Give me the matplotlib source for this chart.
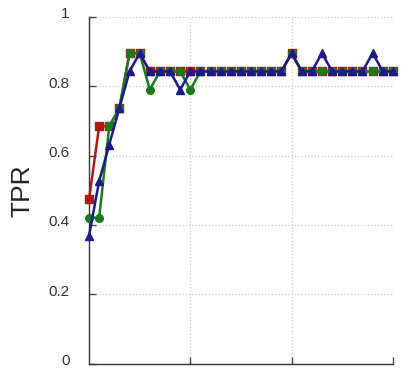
import matplotlib
matplotlib.use("Agg")
import matplotlib.pyplot as plt
import matplotlib.transforms as mtransforms

x = list(range(31))
k = 19.0
red_vals = [9, 13, 13, 14, 17, 17, 16, 16, 16, 16, 16, 16, 16, 16, 16, 16, 16, 16, 16, 16,
            17, 16, 16, 16, 16, 16, 16, 16, 16, 16, 16]
green_vals = [8, 8, 13, 14, 17, 17, 15, 16, 16, 16, 15, 16, 16, 16, 16, 16, 16, 16, 16, 16,
              17, 16, 16, 16, 16, 16, 16, 16, 16, 16, 16]
blue_vals = [7, 10, 12, 14, 16, 17, 16, 16, 16, 15, 16, 16, 16, 16, 16, 16, 16, 16, 16, 16,
             17, 16, 16, 17, 16, 16, 16, 16, 17, 16, 16]
red = [v / k for v in red_vals]
green = [v / k for v in green_vals]
blue = [v / k for v in blue_vals]

yticks = [0, 0.2, 0.4, 0.6, 0.8, 1]
ytick_labels = ["0", "0.2", "0.4", "0.6", "0.8", "1"]
xticks = [10, 20, 30]

plt.rcParams['font.family'] = ['Liberation Sans', 'DejaVu Sans']
fig = plt.figure(figsize=(4.14, 3.68), dpi=100)
ax = fig.add_axes([0.215, 0.011, 0.734, 0.944])

ax.plot(x, red, color='#b01818', marker='s', markersize=5.5, lw=1.8, clip_on=False, zorder=3)
ax.plot(x, green, color='#1c7a1c', marker='o', markersize=5.5, lw=1.8, clip_on=False, zorder=4)
ax.plot(x, blue, color='#1a1a8a', marker='^', markersize=5.5, lw=1.8, clip_on=False, zorder=5)

ax.set_xlim(0, 30)
ax.set_ylim(0, 1)
ax.set_yticks(yticks)
ax.set_yticklabels(ytick_labels)
ax.set_xticks(xticks)
ax.set_xticklabels([])
ax.tick_params(axis='both', direction='in', length=5, width=1, color='#444444')
ax.tick_params(axis='y', pad=14, labelsize=11, labelcolor='#333333')
ax.spines['top'].set_visible(False)
ax.spines['right'].set_visible(False)
for s in ['left', 'bottom']:
    ax.spines[s].set_color('#333333')
    ax.spines[s].set_linewidth(1)
ax.grid(True, linestyle=':', color='#cccccc', linewidth=0.9)
ax.set_axisbelow(True)
ax.set_ylabel('TPR', fontsize=19, color='#222222', labelpad=10)

offset = mtransforms.ScaledTranslation(0, 4 / 100, fig.dpi_scale_trans)
for lab in ax.get_yticklabels():
    lab.set_transform(lab.get_transform() + offset)

fig.savefig('out.png', dpi=100)
